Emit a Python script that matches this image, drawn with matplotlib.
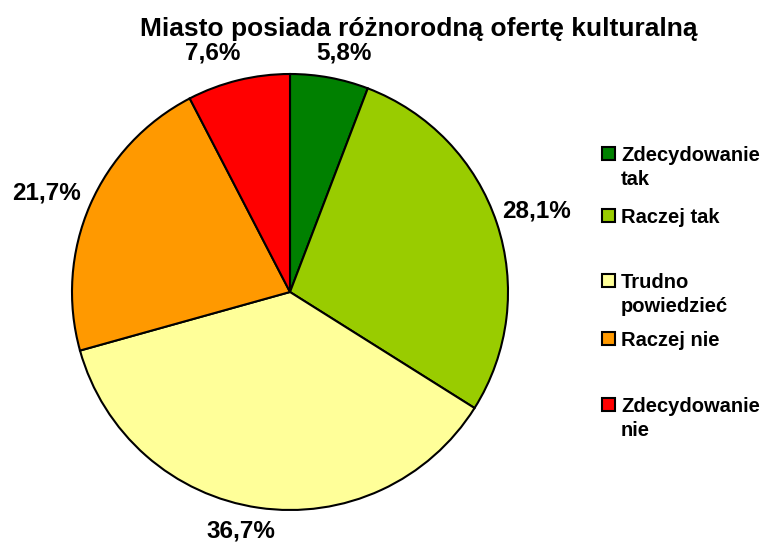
import numpy as np
import matplotlib.pyplot as plt
from matplotlib.patches import Rectangle

# data
labels = ['Zdecydowanie\ntak', 'Raczej tak', 'Trudno\npowiedzieć', 'Raczej nie', 'Zdecydowanie\nnie']
values = [5.8, 28.1, 36.7, 21.7, 7.6]
pct_text = ['5,8%', '28,1%', '36,7%', '21,7%', '7,6%']
colors = ['#008000', '#99CC00', '#FFFF99', '#FF9900', '#FF0000']

plt.rcParams['font.family'] = ['Liberation Sans', 'DejaVu Sans']
plt.rcParams['font.weight'] = 'bold'

W, H = 766, 544
fig = plt.figure(figsize=(W / 100, H / 100), dpi=100)

# pie centre / radius in pixels
cx, cy, r = 290, 292, 218
ax = fig.add_axes([(cx - r) / W, (H - cy - r) / H, 2 * r / W, 2 * r / H])
wedges, _ = ax.pie(values, colors=colors, startangle=90, counterclock=False,
                   wedgeprops=dict(edgecolor='black', linewidth=1.5))
ax.set_xlim(-1, 1)
ax.set_ylim(-1, 1)
ax.set_aspect('equal')

# percentage labels outside the pie (distance, angle shift in degrees)
lab_dist = [1.124, 1.19, 1.12, 1.206, 1.152]
lab_shift = [-2.3, -0.3, -3.3, 1.3, 4.2]
for w, t, d, s in zip(wedges, pct_text, lab_dist, lab_shift):
    ang = np.deg2rad((w.theta1 + w.theta2) / 2 + s)
    ax.text(d * np.cos(ang), d * np.sin(ang), t, ha='center', va='center',
            fontsize=17.5, fontweight='bold', clip_on=False)

fig.text(419 / W, 1 - 36 / H, 'Miasto posiada różnorodną ofertę kulturalną',
         ha='center', va='baseline', fontsize=19, fontweight='bold')

# legend, drawn by hand to follow the original spacing (first-line baselines)
leg_base = [161, 223, 288, 346, 412]
for c, lab, y in zip(colors, labels, leg_base):
    fig.patches.append(Rectangle((602 / W, 1 - (y - 1) / H), 13 / W, 13 / H,
                                 transform=fig.transFigure, facecolor=c,
                                 edgecolor='black', linewidth=1.5))
    first, *rest = lab.split('\n')
    fig.text(621 / W, 1 - y / H, first, ha='left', va='baseline',
             fontsize=14.5, fontweight='bold')
    for i, line in enumerate(rest, 1):
        fig.text(621 / W, 1 - (y + 24 * i) / H, line, ha='left', va='baseline',
                 fontsize=14.5, fontweight='bold')

fig.savefig('out.png', dpi=100)
